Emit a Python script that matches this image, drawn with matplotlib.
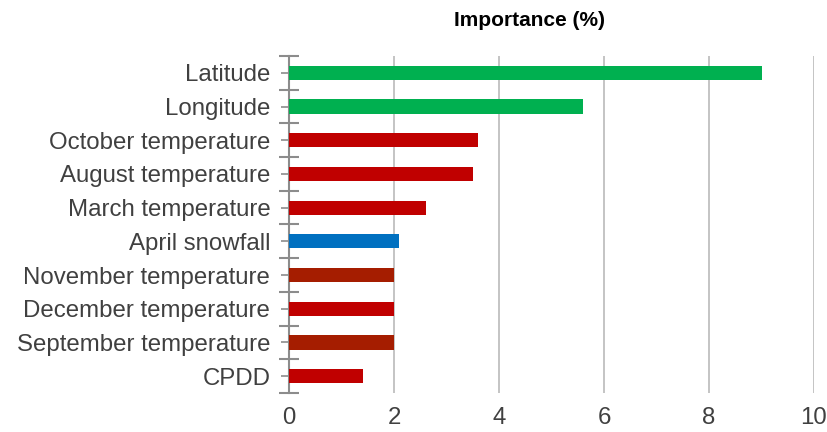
import numpy as np
import matplotlib.pyplot as plt

plt.rcParams['font.family'] = ['Liberation Sans', 'DejaVu Sans']

features = [
    "Latitude", "Longitude", "October temperature", "August temperature",
    "March temperature", "April snowfall", "November temperature",
    "December temperature", "September temperature", "CPDD",
]
importance = [9.0, 5.6, 3.6, 3.5, 2.6, 2.1, 2.0, 2.0, 2.0, 1.4]
colors = ["#00B050", "#00B050", "#C00000", "#C00000", "#C00000",
          "#0070C0", "#A51D00", "#C00000", "#A51D00", "#C00000"]

fig = plt.figure(figsize=(8.27, 4.32), dpi=100)
ax = fig.add_axes([289 / 827, 1 - 393 / 432, (814 - 289) / 827, (393 - 56) / 432])

y = np.arange(len(features))
ax.barh(y, importance, height=0.42, color=colors, zorder=3)

ax.set_xlim(0, 10)
ax.set_ylim(len(features) - 0.5, -0.5)
ax.set_xticks(np.arange(0, 11, 2))
ax.grid(True, axis="x", color="#BFBFBF", linewidth=1.3, zorder=0)

# category labels on minor ticks at bar centres, long major ticks at boundaries
ax.set_yticks(np.arange(-0.5, len(features), 1.0))
ax.set_yticklabels([])
ax.set_yticks(y, minor=True)
ax.set_yticklabels(features, minor=True)
ax.tick_params(axis="y", which="major", direction="inout", length=14,
               width=1.5, color="#8C8C8C")
ax.tick_params(axis="y", which="minor", direction="inout", length=11,
               width=1.2, color="#8C8C8C", labelsize=17.3, labelcolor="#404040", pad=8)
ax.tick_params(axis="x", length=0, labelsize=17.3, labelcolor="#404040", pad=10)

for side in ["top", "right", "bottom"]:
    ax.spines[side].set_visible(False)
ax.spines["left"].set_color("#8C8C8C")
ax.spines["left"].set_linewidth(1.5)

fig.text(530 / 827, 1 - 20 / 432, "Importance (%)", ha="center", va="center",
         fontsize=15, fontweight="bold", color="black")

fig.savefig("out.png", dpi=100)
